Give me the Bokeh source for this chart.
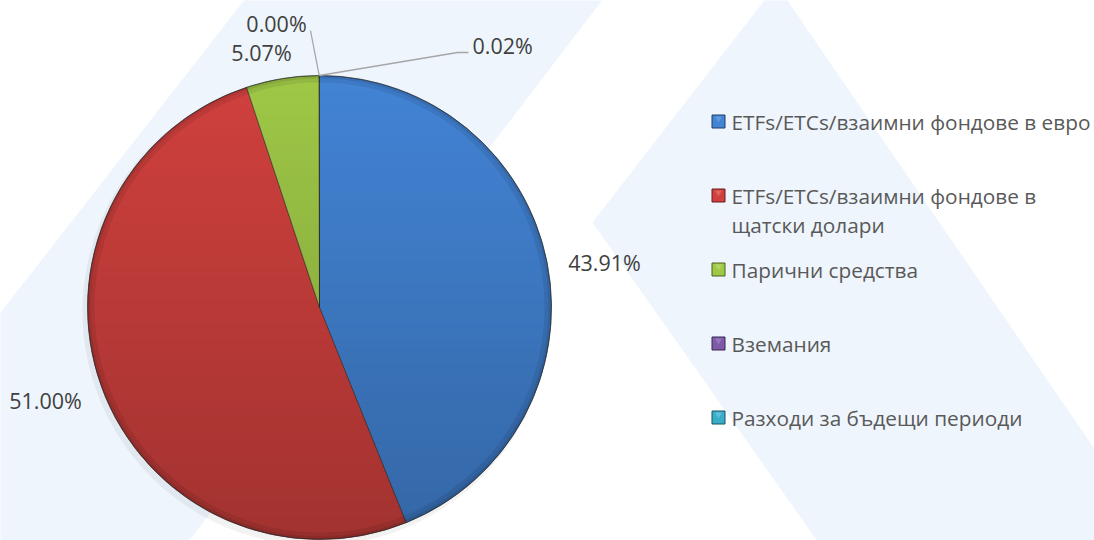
import math
from bokeh.plotting import figure
from bokeh.models import Range1d, ColumnDataSource
from bokeh.embed import file_html
from bokeh.resources import INLINE
from bokeh.core.properties import value

# ---------------- data ----------------
categories = [
    "ETFs/ETCs/взаимни фондове в евро",
    "ETFs/ETCs/взаимни фондове в щатски долари",
    "Парични средства",
    "Вземания",
    "Разходи за бъдещи периоди",
]
legend_lines = [
    ["ETFs/ETCs/взаимни фондове в евро"],
    ["ETFs/ETCs/взаимни фондове в", "щатски долари"],
    ["Парични средства"],
    ["Вземания"],
    ["Разходи за бъдещи периоди"],
]
shares = [43.91, 51.00, 5.07, 0.00, 0.02]
colors = ["#4384D5", "#D0413E", "#9FC847", "#7D5BA6", "#3AADC8"]
edge_colors = ["#1F3E66", "#661C1A", "#4C631C", "#3A2852", "#1A5463"]
light_colors = ["#6FA2E3", "#E4706D", "#BCDD73", "#A282C8", "#6CC9DF"]

# ---------------- layout (image pixel coordinates) ----------------
W, H = 1094, 540
IMG_H = 540
CX, CY_IMG, R = 319, 307, 232
label_pos = [(604, 262, "center"), (45, 400, "center"), (261, 52, "center"),
             (276, 23, "center"), (472, 45, "left")]
leader_pts = {3: [(310, 30)], 4: [(457, 52), (468, 52)]}
LEG_X, LEG_TX, LEG_Y0, LEG_DY, LEG_LH = 718, 731, 121, 74, 29
BG = "#EEF5FC"


def Y(iy):
    return IMG_H - iy


CY = Y(CY_IMG)

p = figure(width=W, height=H, x_range=Range1d(0, W), y_range=Range1d(0, H),
           output_backend="svg", toolbar_location=None, min_border=0,
           background_fill_color="white", border_fill_color="white")
p.axis.visible = False
p.grid.visible = False
p.outline_line_color = None

# decorative watermark shapes
bg_xs = [[245, 603, 185, -10, -10], [776, 1160, 820, 592]]
bg_ys = [[Y(-2), Y(-2), Y(545), Y(545), Y(325)], [Y(-16), Y(545), Y(545), Y(222)]]
p.patches(xs=bg_xs, ys=bg_ys, fill_color=BG, line_color=None)

# slight shadow under the pie
p.circle(x=[CX - 3], y=[CY - 4], radius=R + 2, fill_color="#000000", fill_alpha=0.05, line_color=None)

# pie wedges
cum = 0.0
starts, ends, fc = [], [], []
mids = []
for v, c in zip(shares, colors):
    a0 = math.pi / 2 - 2 * math.pi * cum / 100.0
    cum += v
    a1 = math.pi / 2 - 2 * math.pi * cum / 100.0
    mids.append((a0 + a1) / 2)
    if v > 0:
        starts.append(a0)
        ends.append(a1)
        fc.append(c)
src = ColumnDataSource(dict(start=starts, end=ends, fill=fc))
p.wedge(x=CX, y=CY, radius=R, start_angle="start", end_angle="end", direction="clock",
        fill_color="fill", line_color="#2b2b2b", line_alpha=0.55, line_width=1, source=src)

# vertical shading (clipped to the pie circle)
NB = 60
sx, sy, sa = [], [], []
for i in range(NB):
    yt = CY + R - 2 * R * i / NB
    yb = CY + R - 2 * R * (i + 1) / NB
    pts_r, pts_l = [], []
    for k in range(7):
        yy = yt + (yb - yt) * k / 6
        dx = math.sqrt(max(R * R - (yy - CY) ** 2, 0.0))
        pts_r.append((CX + dx, yy))
        pts_l.append((CX - dx, yy))
    poly = pts_r + pts_l[::-1]
    sx.append([q[0] for q in poly])
    sy.append([q[1] for q in poly])
    sa.append(0.22 * (i + 0.5) / NB)
p.patches(xs=sx, ys=sy, fill_color="#000000", fill_alpha=sa, line_color=None)

# bevel rim
p.annulus(x=[CX], y=[CY], inner_radius=R - 7, outer_radius=R, fill_color="#000000",
          fill_alpha=0.08, line_color=None)
p.annulus(x=[CX], y=[CY], inner_radius=R - 3, outer_radius=R, fill_color="#000000",
          fill_alpha=0.08, line_color=None)
p.circle(x=[CX], y=[CY], radius=R, fill_color=None, line_color="#2b2b2b", line_alpha=0.5, line_width=1)

# leader lines
for idx, pts in leader_pts.items():
    ax = CX + R * math.cos(mids[idx])
    ay = CY + R * math.sin(mids[idx])
    xs = [ax] + [q[0] for q in pts]
    ys = [ay] + [Y(q[1]) for q in pts]
    p.line(xs, ys, line_color="#A6A6A6", line_width=1.3)

# data labels
for i, v in enumerate(shares):
    lx, ly, al = label_pos[i]
    p.text(x=[lx], y=[Y(ly)], text=[f"{v:.2f}%"], text_font=value("Open Sans"),
           text_font_size="21.5px", text_color="#404040", text_align=al, text_baseline="middle")

# legend
for i, lines in enumerate(legend_lines):
    yc = LEG_Y0 + i * LEG_DY
    p.scatter(x=[LEG_X], y=[Y(yc)], marker="square", size=13, fill_color=colors[i],
              line_color=edge_colors[i], line_width=1)
    p.scatter(x=[LEG_X], y=[Y(yc - 3)], marker="inverted_triangle", size=7,
              fill_color=light_colors[i], fill_alpha=0.7, line_color=None)
    for j, t in enumerate(lines):
        p.text(x=[LEG_TX], y=[Y(yc + j * LEG_LH)], text=[t], text_font=value("Open Sans"),
               text_font_size="20.8px", text_color="#595959", text_align="left",
               text_baseline="middle")

open("out.html", "w").write(file_html(p, INLINE))
